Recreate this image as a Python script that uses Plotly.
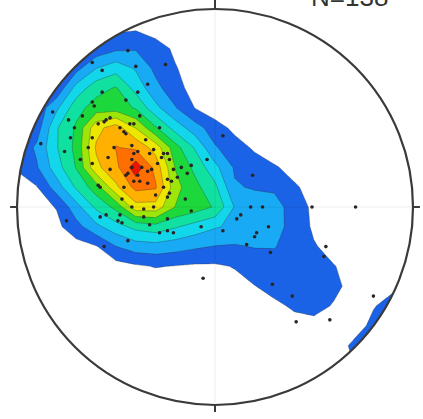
import numpy as np
import plotly.graph_objects as go

# ---- density grid (stereonet, unit circle), rows top -> bottom ----
grid_x = [round(-1.0 + 0.1 * i, 2) for i in range(21)]
grid_y = [round(1.0 - 0.1 * j, 2) for j in range(21)]

density = [
    [0, 0, 0, 0, 0.2, 0.4, 0.5, 0.3, 0, 0, 0, 0, 0, 0, 0, 0, 0, 0, 0, 0, 0],
    [0, 0, 0.2, 0.4, 0.6, 0.8, 0.9, 0.5, 0.2, 0, 0, 0, 0, 0, 0, 0, 0, 0, 0, 0, 0],
    [0.2, 0.5, 0.8, 1.0, 1.3, 1.8, 1.9, 1.5, 0.8, 0.2, 0, 0, 0, 0, 0, 0, 0, 0, 0, 0, 0],
    [0.5, 0.8, 1.1, 1.67, 3.0, 3.6, 2.9, 1.75, 1.07, 0.5, 0.1, 0, 0, 0, 0, 0, 0, 0, 0, 0, 0],
    [0.8, 1.1, 1.2, 3.4, 4.6, 5.1, 3.64, 2.31, 1.36, 0.6, 0.1, 0, 0, 0, 0, 0, 0, 0, 0, 0, 0],
    [1.0, 1.3, 2.8, 4.64, 5.45, 5.5, 4.9, 3.29, 2.07, 0.97, 0.35, 0.05, 0, 0, 0, 0, 0, 0, 0, 0, 0],
    [1.0, 1.5, 3.9, 5.17, 7.68, 8.5, 6.95, 5.11, 3.58, 2.42, 1.47, 0.73, 0.1, 0, 0, 0, 0, 0, 0, 0, 0],
    [1.2, 2.18, 3.92, 5.29, 8.13, 9.05, 8.8, 7.57, 5.39, 3.88, 2.1, 1.44, 0.85, 0.3, 0, 0, 0, 0, 0, 0, 0],
    [1.1, 1.9, 3.57, 5.07, 7.75, 8.73, 10.6, 8.65, 5.94, 4.73, 3.3, 1.87, 1.49, 1.13, 0.6, 0.2, 0, 0, 0, 0, 0],
    [0.6, 0.95, 2.48, 4.16, 5.53, 7.79, 9.32, 9.13, 6.33, 5.29, 4.24, 2.1, 1.9, 1.9, 1.15, 0.6, 0.2, 0, 0, 0, 0],
    [0.3, 0.65, 1.05, 2.63, 4.22, 5.29, 7.6, 7.6, 5.97, 5.5, 4.9, 2.91, 2.56, 2.23, 1.75, 0.7, 0.3, 0.1, 0, 0, 0],
    [0.2, 0.4, 0.75, 1.64, 2.73, 3.58, 4.3, 4.6, 4.1, 3.58, 3.1, 2.78, 2.48, 2.2, 1.8, 0.8, 0.45, 0.15, 0, 0, 0],
    [0, 0.1, 0.3, 0.6, 0.92, 1.98, 2.5, 2.6, 2.4, 2.15, 1.95, 1.9, 2.05, 2.05, 1.6, 1.1, 0.6, 0.25, 0, 0, 0],
    [0, 0, 0, 0.1, 0.3, 0.6, 0.85, 1.05, 0.95, 0.85, 0.85, 1.05, 1.4, 1.6, 1.55, 1.4, 1.05, 0.6, 0.3, 0.1, 0],
    [0, 0, 0, 0, 0, 0.2, 0.3, 0.35, 0.4, 0.45, 0.4, 0.7, 0.98, 1.25, 1.4, 1.35, 1.15, 0.8, 0.5, 0.85, 1.0],
    [0, 0, 0, 0, 0, 0, 0, 0, 0, 0.1, 0.25, 0.4, 0.6, 0.85, 1.1, 1.2, 0.95, 0.7, 0.95, 1.3, 1.3],
    [0, 0, 0, 0, 0, 0, 0, 0, 0, 0, 0, 0, 0.35, 0.55, 0.75, 0.8, 0.6, 0.65, 1.2, 1.4, 1.4],
    [0, 0, 0, 0, 0, 0, 0, 0, 0, 0, 0, 0, 0, 0, 0.3, 0.4, 0.6, 1.15, 1.4, 1.4, 1.3],
    [0, 0, 0, 0, 0, 0, 0, 0, 0, 0, 0, 0, 0, 0, 0, 0.4, 0.8, 1.0, 1.1, 1.0, 0.9],
    [0, 0, 0, 0, 0, 0, 0, 0, 0, 0, 0, 0, 0, 0, 0, 0.2, 0.5, 0.7, 0.7, 0.6, 0.5],
    [0, 0, 0, 0, 0, 0, 0, 0, 0, 0, 0, 0, 0, 0, 0, 0, 0.3, 0.4, 0.4, 0.3, 0.2],
]

# ---- poles (projected coordinates, unit net radius) ----
pole_x = [-0.44, -0.62, -0.40, -0.25, -0.57, -0.34, -0.57, -0.39, -0.45, -0.62,
          -0.61, -0.82, -0.67, -0.38, -0.53, -0.55, -0.56, -0.74, -0.71, -0.59,
          -0.41, -0.28, -0.48, -0.46, -0.45, -0.62, -0.73, 0.04, -0.51, -0.88,
          -0.64, -0.76, -0.62, -0.54, -0.26, -0.39, -0.42, -0.39, -0.44, -0.34,
          -0.38, -0.41, -0.34, -0.46, -0.58, -0.47, -0.29, -0.23, -0.21, -0.24,
          -0.26, -0.23, -0.17, -0.12, -0.14, -0.41, -0.33, -0.42, -0.31, -0.42,
          -0.37, -0.45, -0.32, -0.27, -0.24, -0.22, -0.24, -0.31, -0.36, -0.42,
          -0.19, -0.04, -0.12, -0.59, -0.58, -0.49, -0.36, -0.24, -0.75, -0.55,
          -0.48, -0.47, -0.28, -0.24, -0.21, -0.07, -0.44, -0.56, -0.06, 0.04,
          0.11, 0.13, 0.18, 0.24, 0.19, 0.21, 0.20, 0.27, 0.16, 0.49,
          0.56, 0.28, 0.71, 0.55, 0.29, 0.39, 0.41, 0.58, 0.80, -0.43,
          -0.53, -0.35, -0.30, -0.15, -0.68, -0.33]
pole_y = [0.79, 0.73, 0.71, 0.72, 0.69, 0.62, 0.58, 0.58, 0.54, 0.53,
          0.51, 0.48, 0.46, 0.46, 0.45, 0.44, 0.43, 0.44, 0.40, 0.42,
          0.42, 0.40, 0.40, 0.38, 0.37, 0.35, 0.35, 0.36, 0.30, 0.32,
          0.30, 0.28, 0.22, 0.25, 0.27, 0.28, 0.20, 0.16, 0.17, 0.18,
          0.13, 0.13, 0.12, 0.10, 0.10, 0.04, 0.22, 0.24, 0.19, 0.14,
          0.10, 0.07, 0.20, 0.21, 0.17, 0.27, 0.27, 0.31, 0.29, 0.24,
          0.20, 0.16, 0.19, 0.25, 0.27, 0.13, 0.05, 0.00, -0.01, 0.00,
          0.15, 0.24, -0.02, 0.11, -0.05, -0.07, -0.05, -0.06, -0.07, -0.04,
          -0.04, -0.08, -0.13, -0.12, -0.13, -0.10, -0.17, -0.20, -0.36, -0.12,
          -0.06, -0.04, 0.00, 0.00, 0.16, -0.13, -0.15, -0.10, -0.19, 0.00,
          -0.20, -0.23, 0.00, -0.25, -0.39, -0.45, -0.58, -0.57, -0.45, 0.42,
          0.19, 0.34, 0.06, 0.04, 0.24, -0.09]

label_text = "N=138"

level_colors = ["#ffffff", "#1a62e6", "#19aaf5", "#12d6ea", "#10e0a0", "#1cd83c",
                "#9ee60a", "#ece600", "#ffb000", "#ff6e00", "#eb1400"]

colorscale = [[k / (len(level_colors) - 1), c] for k, c in enumerate(level_colors)]

fig = go.Figure()
fig.add_trace(go.Contour(
    x=grid_x, y=grid_y, z=density,
    contours=dict(start=1, end=10, size=1, coloring="fill", showlines=True),
    colorscale=colorscale,
    line=dict(width=0.6, color="rgba(50,50,50,0.55)", smoothing=0),
    showscale=False, hoverinfo="skip",
))
fig.add_trace(go.Scatter(
    x=pole_x, y=pole_y, mode="markers",
    marker=dict(size=3.6, color="#2a2424"),
    hoverinfo="skip", showlegend=False,
))

# mask outside the net circle
t = np.linspace(0, 2 * np.pi, 361)
circ = " ".join(f"L{np.cos(a):.5f},{-np.sin(a):.5f}" for a in t[1:])
mask_path = f"M-3,-3 L3,-3 L3,3 L-3,3 Z M1,0 {circ} Z"
shapes = [dict(type="path", path=mask_path, fillcolor="white", line=dict(width=0), layer="above")]
# faint cross
shapes.append(dict(type="line", x0=0, x1=0, y0=-1, y1=1, line=dict(color="rgba(0,0,0,0.07)", width=1), layer="above"))
shapes.append(dict(type="line", x0=-1, x1=1, y0=0, y1=0, line=dict(color="rgba(0,0,0,0.07)", width=1), layer="above"))
# net outline
shapes.append(dict(type="circle", x0=-1, x1=1, y0=-1, y1=1, line=dict(color="#3a3a3a", width=2.2), layer="above"))
# ticks
tk = dict(color="#3a3a3a", width=2)
shapes += [
    dict(type="line", x0=-1.035, x1=-1.0, y0=0, y1=0, line=tk, layer="above"),
    dict(type="line", x0=1.0, x1=1.035, y0=0, y1=0, line=tk, layer="above"),
    dict(type="line", x0=0, x1=0, y0=1.0, y1=1.045, line=tk, layer="above"),
    dict(type="line", x0=0, x1=0, y0=-1.0, y1=-1.035, line=tk, layer="above"),
]

fig.update_layout(
    width=423, height=419,
    margin=dict(l=0, r=0, t=0, b=0),
    paper_bgcolor="white", plot_bgcolor="white",
    xaxis=dict(range=[-1.0859, 1.0505], visible=False, fixedrange=True),
    yaxis=dict(range=[-1.0707, 1.04545], visible=False, fixedrange=True),
    shapes=shapes,
    showlegend=False,
    annotations=[dict(x=349 / 423, y=1.006, xref="paper", yref="paper", text=label_text,
                      showarrow=False, xanchor="center", yanchor="middle",
                      font=dict(family="Liberation Sans, Arial, sans-serif", size=26, color="#333333"))],
)

fig.write_html("out.html")
